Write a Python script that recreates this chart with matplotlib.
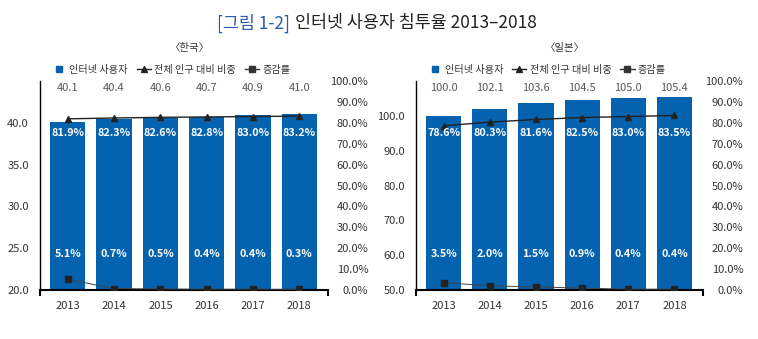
import matplotlib
matplotlib.use('Agg')
import matplotlib.pyplot as plt
from matplotlib.lines import Line2D

plt.rcParams['font.family'] = ['Noto Sans CJK KR', 'DejaVu Sans']

years = ['2013', '2014', '2015', '2016', '2017', '2018']

# 한국
kr_users = [40.1, 40.4, 40.6, 40.7, 40.9, 41.0]
kr_share = [81.9, 82.3, 82.6, 82.8, 83.0, 83.2]
kr_growth = [5.1, 0.7, 0.5, 0.4, 0.4, 0.3]
kr_left_ticks = [20, 25, 30, 35, 40]

# 일본
jp_users = [100.0, 102.1, 103.6, 104.5, 105.0, 105.4]
jp_share = [78.6, 80.3, 81.6, 82.5, 83.0, 83.5]
jp_growth = [3.5, 2.0, 1.5, 0.9, 0.4, 0.4]
jp_left_ticks = [50, 60, 70, 80, 90, 100]

right_ticks = [0, 10, 20, 30, 40, 50, 60, 70, 80, 90, 100]

BLUE = '#0462ae'
GREY = '#595959'
W, H = 758, 339


def panel(rect, name, users, share, growth, left_ticks, ylim):
    ax = fig.add_axes(rect)
    x = list(range(len(years)))
    ax.bar(x, users, width=0.76, color=BLUE, zorder=1)
    ax.set_xlim(-0.6, 5.62)
    ax.set_ylim(*ylim)
    ax.set_yticks(left_ticks)
    ax.set_yticklabels([f'{v:.1f}' for v in left_ticks])
    ax.set_xticks(x)
    ax.set_xticklabels(years)
    ax.set_xticks([-0.6, 5.62], minor=True)
    ax.tick_params(axis='x', which='major', length=0, pad=8, labelsize=8, colors='#333333')
    ax.tick_params(axis='x', which='minor', length=4, width=1.5, direction='out')
    ax.tick_params(axis='y', length=0, pad=8, labelsize=8, colors='#333333')
    for s in ('top', 'right'):
        ax.spines[s].set_visible(False)
    ax.spines['left'].set_linewidth(1.0)
    ax.spines['bottom'].set_linewidth(1.5)

    for i, v in enumerate(users):
        ax.text(i, 0.967, f'{v:.1f}', transform=ax.get_xaxis_transform(),
                ha='center', va='center', fontsize=8, color=GREY)

    ax2 = ax.twinx()
    ax2.set_ylim(0, 100)
    ax2.set_yticks(right_ticks)
    ax2.set_yticklabels([f'{v:.1f}%' for v in right_ticks])
    ax2.tick_params(axis='y', length=0, pad=29, labelsize=8, colors='#333333')
    for lab in ax2.get_yticklabels():
        lab.set_ha('right')
    for s in ('top', 'right', 'left', 'bottom'):
        ax2.spines[s].set_visible(False)
    ax2.plot(x, share, color='#222222', lw=1.0, marker='^', ms=4.5, zorder=3)
    ax2.plot(x, growth, color='#444444', lw=0.7, marker='s', ms=4, mfc='#222222',
             mec='#222222', zorder=3)

    for i, (s, g) in enumerate(zip(share, growth)):
        ax2.text(i, 0.75, f'{s:.1f}%', transform=ax2.get_xaxis_transform(),
                 ha='center', va='center', fontsize=7.8, color='white', fontweight='bold')
        ax2.text(i, 0.172, f'{g:.1f}%', transform=ax2.get_xaxis_transform(),
                 ha='center', va='center', fontsize=7.8, color='white', fontweight='bold')

    handles = [
        Line2D([], [], ls='none', marker='s', ms=5, color=BLUE),
        Line2D([], [], color='#222222', lw=1.0, marker='^', ms=4.5),
        Line2D([], [], color='#333333', lw=1.0, marker='s', ms=4),
    ]
    labels = ['인터넷 사용자', '전체 인구 대비 비중', '증감률']
    ax.legend(handles, labels, loc='center', bbox_to_anchor=(0.455, 1.055), ncol=3,
              frameon=False, fontsize=7.3, handlelength=1.4, handletextpad=0.3,
              columnspacing=0.9, labelcolor='#333333')
    ax.text(0.52, 1.16, name, transform=ax.transAxes, ha='center', va='center',
            fontsize=7.5, color='#333333')
    return ax


fig = plt.figure(figsize=(W / 100, H / 100), dpi=100)

panel([40 / W, 49 / H, 288 / W, 209 / H], '〈한국〉', kr_users, kr_share, kr_growth,
      kr_left_ticks, (20, 45))
panel([416 / W, 49 / H, 287 / W, 209 / H], '〈일본〉', jp_users, jp_share, jp_growth,
      jp_left_ticks, (50, 110))

fig.text(290 / W, 1 - 23 / H, '[그림 1-2]', ha='right', va='center',
         fontsize=12.5, color='#2a5ca8')
fig.text(295 / W, 1 - 23 / H, '인터넷 사용자 침투율 2013–2018', ha='left', va='center',
         fontsize=12.5, color='#222222')

fig.savefig('out.png', dpi=100)
